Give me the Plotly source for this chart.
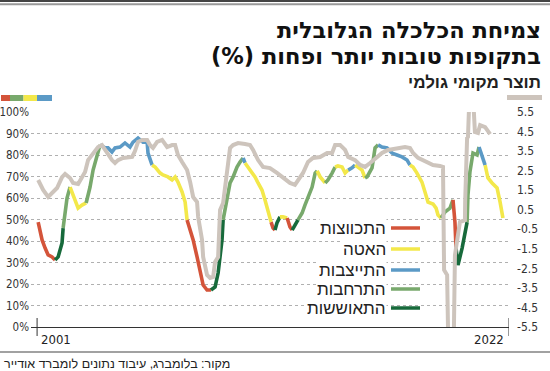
import plotly.graph_objects as go

# ---------------- data ----------------
# GDP (right axis, %), x in decimal years
gdp_x = [2001.05, 2001.28, 2001.51, 2001.74, 2001.92, 2002.15, 2002.29, 2002.52, 2002.66, 2002.89,
         2003.07, 2003.21, 2003.35, 2003.53, 2003.67, 2003.81, 2003.99, 2004.13, 2004.27, 2004.45,
         2004.59, 2004.73, 2004.96, 2005.19, 2005.38, 2005.51, 2005.65, 2005.84, 2006.07, 2006.20,
         2006.34, 2006.53, 2006.76, 2006.99, 2007.22, 2007.36, 2007.49, 2007.68, 2007.91, 2008.05,
         2008.19, 2008.37, 2008.42, 2008.60, 2008.65, 2008.83, 2008.97, 2009.11, 2009.20, 2009.34,
         2009.43, 2009.57, 2009.75, 2009.89, 2010.03, 2010.26, 2010.58, 2010.81, 2010.95, 2011.18,
         2011.41, 2011.73, 2012.05, 2012.33, 2012.65, 2012.88, 2013.11, 2013.25, 2013.48, 2013.71,
         2014.04, 2014.36, 2014.59, 2014.73, 2014.96, 2015.19, 2015.33, 2015.65, 2015.88, 2016.11,
         2016.34, 2016.66, 2016.89, 2017.17, 2017.58, 2017.95, 2018.18, 2018.32, 2018.55, 2018.96,
         2019.24, 2019.56, 2019.70, 2019.75, 2019.89, 2019.98, 2020.16, 2020.25, 2020.48, 2020.71,
         2020.72, 2020.81, 2020.85, 2020.94, 2021.05, 2021.17, 2021.31, 2021.41, 2021.64, 2021.87]
gdp_y = [2.02, 1.51, 1.15, 1.41, 1.61, 2.17, 2.33, 2.12, 1.87, 1.82,
         2.12, 2.43, 3.04, 3.30, 3.50, 3.71, 3.81, 3.56, 3.40, 3.04,
         2.89, 3.04, 3.15, 3.15, 3.20, 3.50, 3.97, 4.07, 4.07, 3.81,
         3.66, 3.97, 4.07, 3.71, 3.81, 3.81, 3.30, 2.94, 2.53, 1.92,
         1.15, 0.90, 0.13, -1.05, -1.92, -2.84, -2.99, -2.94, -2.17, -1.92,
         0.49, 0.84, 2.28, 3.66, 3.81, 3.91, 3.86, 3.81, 3.56, 3.04,
         2.69, 2.63, 2.38, 2.12, 1.87, 1.77, 2.12, 2.38, 2.94, 3.15,
         3.20, 3.40, 3.40, 3.81, 3.81, 3.56, 3.20, 3.04, 2.79, 2.69,
         2.89, 3.20, 3.40, 3.56, 3.66, 3.71, 3.66, 3.40, 3.15, 2.94,
         2.79, 2.74, 2.69, -2.58, -2.84, -9.0, -9.0, -1.82, -0.13, -0.03,
         0.90, 4.17, 4.22, 7.0, 7.0, 4.48, 4.43, 4.83, 4.73, 4.37]

# Economic cycle indicator (left axis, %) and phase of each segment
cyc_x = [2001.05, 2001.23, 2001.37, 2001.51, 2001.69, 2001.83, 2001.97, 2002.15, 2002.20, 2002.29,
         2002.38, 2002.52, 2002.75, 2002.89, 2003.07, 2003.26, 2003.44, 2003.58, 2003.76, 2003.90,
         2004.13, 2004.27, 2004.45, 2004.59, 2004.82, 2005.05, 2005.28, 2005.42, 2005.65, 2005.88,
         2006.07, 2006.11, 2006.20, 2006.30, 2006.44, 2006.67, 2006.80, 2007.03, 2007.22, 2007.36,
         2007.49, 2007.68, 2007.82, 2007.91, 2008.19, 2008.37, 2008.51, 2008.65, 2008.83, 2009.01,
         2009.20, 2009.34, 2009.43, 2009.52, 2009.57, 2009.75, 2009.89, 2010.03, 2010.21, 2010.35,
         2010.49, 2010.58, 2010.72, 2010.90, 2011.04, 2011.18, 2011.36, 2011.50, 2011.64, 2011.78,
         2011.87, 2011.96, 2012.05, 2012.19, 2012.33, 2012.52, 2012.65, 2012.75, 2012.88, 2013.02,
         2013.21, 2013.34, 2013.48, 2013.67, 2013.81, 2013.90, 2014.04, 2014.27, 2014.40, 2014.59,
         2014.73, 2014.86, 2015.05, 2015.19, 2015.33, 2015.51, 2015.65, 2015.79, 2015.97, 2016.11,
         2016.20, 2016.43, 2016.57, 2016.71, 2016.89, 2017.12, 2017.35, 2017.58, 2017.81, 2018.04,
         2018.18, 2018.32, 2018.50, 2018.73, 2018.87, 2019.01, 2019.24, 2019.38, 2019.47, 2019.61,
         2019.79, 2020.02, 2020.16, 2020.25, 2020.30, 2020.39, 2020.58, 2020.71, 2020.81, 2020.85,
         2020.94, 2021.08, 2021.27, 2021.36, 2021.50, 2021.64, 2021.77, 2021.96, 2022.19, 2022.33,
         2022.46]
cyc_y = [48.8, 40.5, 36.7, 33.5, 32.6, 31.2, 32.6, 39.1, 46.0, 54.4,
         60.0, 65.1, 59.1, 55.3, 56.7, 57.7, 65.1, 73.0, 80.0, 84.7,
         83.3, 83.3, 81.4, 83.3, 83.7, 85.6, 83.7, 86.0, 87.9, 86.0,
         86.0, 80.9, 77.7, 75.3, 74.4, 71.6, 70.7, 69.8, 68.4, 69.8,
         67.4, 62.8, 58.1, 49.8, 40.5, 32.6, 25.1, 19.5, 17.2, 17.2,
         18.6, 25.1, 32.1, 40.5, 49.8, 60.5, 67.0, 69.8, 74.4, 76.7,
         78.6, 76.3, 74.4, 71.6, 69.8, 67.0, 63.7, 59.1, 54.4, 48.8,
         46.0, 45.1, 48.4, 51.2, 51.2, 50.7, 46.5, 45.1, 47.4, 49.8,
         53.0, 56.7, 60.5, 65.1, 71.6, 72.6, 69.8, 67.0, 68.4, 71.6,
         74.4, 74.9, 74.4, 71.6, 73.0, 74.0, 75.3, 74.4, 73.0, 69.3,
         69.8, 74.0, 83.3, 84.7, 83.7, 83.3, 80.9, 80.0, 79.1, 77.7,
         75.3, 74.4, 71.6, 67.4, 62.8, 58.1, 57.2, 55.3, 52.1, 50.7,
         53.5, 55.3, 59.1, 48.8, 36.7, 28.8, 36.7, 44.2, 48.8, 61.4,
         72.1, 80.9, 80.0, 83.7, 79.1, 75.3, 69.3, 67.0, 64.7, 58.1,
         50.7]
cyc_phase = list("RRRRRDDDGG" "GYYYYGGGGB" "BBBBBBBBBB" "BBBYYYYYYY"
                 "YYYRRRRRRD" "DDDDGGGGGG" "BYYYYYYYYR" "RDDYYRRDDG"
                 "GGGGGYYGGG" "YYYYBBYYYG" "GGGBBBBBBB" "YYYYYYYYYG"
                 "GGRRDDDDGG" "GGGBBYYYYY" "Y")

phase_names = {"R": "התכווצות", "Y": "האטה", "B": "התייצבות", "G": "התרחבות", "D": "התאוששות"}
phase_colors = {"R": "#d4543a", "Y": "#f3e84a", "B": "#5b9ac6", "G": "#78a96c", "D": "#176a3b"}
legend_order = ["R", "Y", "B", "G", "D"]

left_ticks = list(range(0, 101, 10))
right_ticks = [-5.5, -4.5, -3.5, -2.5, -1.5, -0.5, 0.5, 1.5, 2.5, 3.5, 4.5, 5.5]
gdp_color = "#cdc4bc"

title1 = "צמיחת הכלכלה הגלובלית"
title2 = "בתקופות טובות יותר ופחות (%)"
subtitle = "תוצר מקומי גולמי"
source = "מקור: בלומברג, עיבוד נתונים לומברד אודייר"
year_labels = ["2001", "2022"]
RLM = "\u200f"

# ---------------- layout geometry (pixels) ----------------
W, H = 550, 371
L, R, T, B = 31, 509, 112, 327
def px(x): return (x - L) / (R - L)
def py(y): return (B - y) / (B - T)

NUM_FONT = "DejaVu Sans Condensed, Liberation Sans Narrow, Roboto, sans-serif"
HEB_FONT = "Liberation Sans, DejaVu Sans, sans-serif"
TITLE_FONT = "DejaVu Sans, Liberation Sans, sans-serif"

fig = go.Figure()

fig.add_trace(go.Scatter(x=gdp_x, y=gdp_y, yaxis="y2", mode="lines",
                         line=dict(color=gdp_color, width=4), hoverinfo="skip", showlegend=False))

# colored segments by phase
start = 0
n = len(cyc_x)
for i in range(1, n):
    if i == n - 1 or cyc_phase[i] != cyc_phase[start]:
        ph = cyc_phase[start]
        fig.add_trace(go.Scatter(x=cyc_x[start:i + 1], y=cyc_y[start:i + 1], mode="lines",
                                 line=dict(color=phase_colors[ph], width=3.6),
                                 hoverinfo="skip", showlegend=False))
        start = i

shapes = []
annotations = []

# top rules
shapes.append(dict(type="line", xref="paper", yref="paper", x0=px(0), x1=px(W), y0=py(1), y1=py(1),
                   line=dict(color="#444", width=2)))
shapes.append(dict(type="line", xref="paper", yref="paper", x0=px(0), x1=px(W), y0=py(4.2), y1=py(4.2),
                   line=dict(color="#999", width=2)))
# bottom rule
shapes.append(dict(type="line", xref="paper", yref="paper", x0=px(0), x1=px(W), y0=py(352), y1=py(352),
                   line=dict(color="#444", width=1.2)))
# year tick marks
for xv in [2001.0, 2022.74]:
    shapes.append(dict(type="line", xref="x", yref="paper", x0=xv, x1=xv, y0=py(318), y1=py(336),
                       line=dict(color="#333", width=1)))

# phase colour strip (top-left) and GDP swatch (top-right)
strip = [("R", 1, 10), ("G", 10, 23.5), ("Y", 23.5, 37), ("B", 37, 52)]
for ph, a, b in strip:
    shapes.append(dict(type="rect", xref="paper", yref="paper", x0=px(a), x1=px(b), y0=py(101), y1=py(95),
                       fillcolor=phase_colors[ph], line=dict(width=0)))
shapes.append(dict(type="rect", xref="paper", yref="paper", x0=px(507), x1=px(542), y0=py(100), y1=py(95),
                   fillcolor=gdp_color, line=dict(width=0)))

# legend
rows = [228, 249, 270, 289, 308]
for ph, yy in zip(legend_order, rows):
    shapes.append(dict(type="line", xref="paper", yref="paper", x0=px(391), x1=px(420), y0=py(yy), y1=py(yy),
                       line=dict(color=phase_colors[ph], width=3.5)))
    annotations.append(dict(xref="paper", yref="paper", x=px(387), y=py(yy), xanchor="right", yanchor="middle",
                            text=phase_names[ph] + RLM, showarrow=False, bgcolor="white", borderpad=0,
                            font=dict(family=HEB_FONT, size=17, color="#222")))

# titles
annotations.append(dict(xref="paper", yref="paper", x=px(543), y=py(30), xanchor="right", yanchor="middle",
                        text="<b>" + title1 + RLM + "</b>", showarrow=False,
                        font=dict(family=TITLE_FONT, size=22.5, color="#111")))
annotations.append(dict(xref="paper", yref="paper", x=px(543), y=py(56.5), xanchor="right", yanchor="middle",
                        text="<b>" + title2 + RLM + "</b>", showarrow=False,
                        font=dict(family=TITLE_FONT, size=22.5, color="#111")))
annotations.append(dict(xref="paper", yref="paper", x=px(543), y=py(82), xanchor="right", yanchor="middle",
                        text="<b>" + subtitle + RLM + "</b>", showarrow=False,
                        font=dict(family=HEB_FONT, size=17, color="#222")))
annotations.append(dict(xref="paper", yref="paper", x=px(2), y=py(364), xanchor="left", yanchor="middle",
                        text=source + RLM, showarrow=False,
                        font=dict(family=HEB_FONT, size=12.5, color="#222")))
# year labels
annotations.append(dict(xref="x", yref="paper", x=2001.0, y=py(339), xanchor="left", yanchor="middle",
                        text=year_labels[0], showarrow=False, xshift=2,
                        font=dict(family=NUM_FONT, size=13, color="#222")))
annotations.append(dict(xref="x", yref="paper", x=2022.74, y=py(339), xanchor="right", yanchor="middle",
                        text=year_labels[1], showarrow=False, xshift=-3,
                        font=dict(family=NUM_FONT, size=13, color="#222")))

fig.update_layout(
    width=W, height=H,
    margin=dict(l=L, r=W - R, t=T, b=H - B, pad=0, autoexpand=False),
    paper_bgcolor="white", plot_bgcolor="white",
    showlegend=False,
    shapes=shapes, annotations=annotations,
    xaxis=dict(range=[2000.72, 2022.74], showgrid=False, zeroline=False, showticklabels=False,
               showline=True, linecolor="#333", linewidth=1.2, ticks="", automargin=False),
    yaxis=dict(range=[0, 100], tickvals=left_ticks, ticktext=[f"{v}%" for v in left_ticks],
               showgrid=True, gridcolor="#b0b0b0", griddash="dot", gridwidth=1, zeroline=False,
               ticks="", ticklabelstandoff=1, automargin=False,
               tickfont=dict(family=NUM_FONT, size=11.5, color="#333")),
    yaxis2=dict(range=[-5.5, 5.5], overlaying="y", side="right", tickvals=right_ticks,
                ticktext=[f"{v:.1f}" for v in right_ticks], showgrid=False, zeroline=False,
                ticks="", ticklabelstandoff=7, automargin=False,
                tickfont=dict(family=NUM_FONT, size=12, color="#333")),
)

fig.write_html("out.html", config={"displayModeBar": False},
               post_script="document.body.style.margin='0';document.body.style.padding='0';"
                           "document.documentElement.style.overflow='hidden';")
